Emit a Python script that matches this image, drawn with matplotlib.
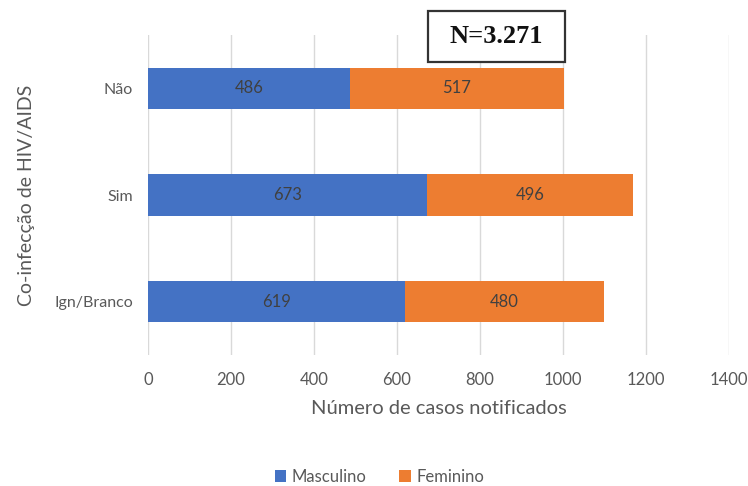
import matplotlib
matplotlib.use("Agg")
import matplotlib.pyplot as plt
from matplotlib.patches import Patch, Rectangle

categories = ["Ign/Branco", "Sim", "Não"]
masculino = [619, 673, 486]
feminino = [480, 496, 517]
series_names = ["Masculino", "Feminino"]
x_ticks = [0, 200, 400, 600, 800, 1000, 1200, 1400]

blue = "#4472C4"
orange = "#ED7D31"
text_gray = "#595959"

plt.rcParams["font.family"] = ["Lato", "DejaVu Sans"]

fig = plt.figure(figsize=(7.48, 4.86), dpi=100)
ax = fig.add_axes([0.198, 0.2695, 0.7766, 0.6585])

y = range(len(categories))
h = 0.39
ax.barh(y, masculino, height=h, color=blue, zorder=3)
ax.barh(y, feminino, left=masculino, height=h, color=orange, zorder=3)

for i, (m, f) in enumerate(zip(masculino, feminino)):
    ax.text(m / 2, i, str(m), ha="center", va="center", fontsize=12, color="#404040", zorder=4)
    ax.text(m + f / 2, i, str(f), ha="center", va="center", fontsize=12, color="#404040", zorder=4)

ax.set_xlim(0, 1400)
ax.set_ylim(-0.5, 2.5)
ax.set_xticks(x_ticks)
ax.set_xticklabels([str(t) for t in x_ticks], fontsize=12, color=text_gray)
ax.set_yticks(list(y))
ax.set_yticklabels(categories, fontsize=11.5, color=text_gray)
ax.tick_params(axis="y", length=0, pad=11)
ax.tick_params(axis="x", length=0, pad=12)
ax.grid(axis="x", color="#D9D9D9", linewidth=1, zorder=0)
for s in ax.spines.values():
    s.set_visible(False)

ax.set_xlabel("Número de casos notificados", fontsize=14.5, color=text_gray, labelpad=9)
ax.set_ylabel("Co-infecção de HIV/AIDS", fontsize=14, color=text_gray, labelpad=14)

# sample-size box above the bars
fig.patches.append(Rectangle((0.572, 0.8724), 0.1832, 0.105, transform=fig.transFigure,
                             facecolor="white", edgecolor="#333333", linewidth=1.6, zorder=9))
fig.text(0.6638, 0.9249, "N=3.271", ha="center", va="center", fontsize=19,
         fontweight="bold", family=["Liberation Serif"], color="#111111", zorder=10)

handles = [Patch(facecolor=blue), Patch(facecolor=orange)]
fig.legend(handles, series_names, loc="center", bbox_to_anchor=(0.507, 0.0185),
           ncol=2, frameon=False, fontsize=12, handlelength=0.7, handleheight=0.7,
           columnspacing=2.0, handletextpad=0.3, labelcolor=text_gray)

fig.savefig("out.png", dpi=100)
